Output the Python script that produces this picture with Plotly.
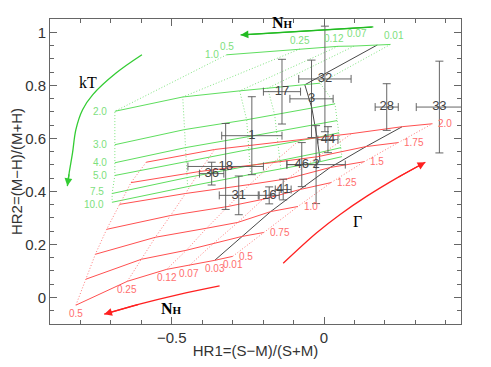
import plotly.graph_objects as go

# model grids: rows = kT (thermal) or photon index (power law), columns = NH (1e22)
nh_vals = [0.5, 0.25, 0.12, 0.07, 0.03, 0.01]
kt_vals = ["1.0", "2.0", "3.0", "4.0", "5.0", "7.5", "10.0"]
gamma_vals = ["0.5", "0.75", "1.0", "1.25", "1.5", "1.75", "2.0"]

th_hr1 = [
    [-0.320, -0.079, 0.046, 0.099, 0.175, 0.218],
    [-0.687, -0.464, -0.277, -0.185, -0.063, -0.013],
    [-0.687, -0.458, -0.254, -0.162, -0.040, 0.036],
    [-0.687, -0.455, -0.250, -0.155, -0.030, 0.043],
    [-0.687, -0.453, -0.247, -0.152, -0.023, 0.049],
    [-0.696, -0.450, -0.244, -0.145, -0.016, 0.056],
    [-0.696, -0.448, -0.241, -0.142, -0.013, 0.059],
]
th_hr2 = [
    [0.915, 0.937, 0.947, 0.948, 0.952, 0.954],
    [0.702, 0.756, 0.779, 0.789, 0.802, 0.808],
    [0.576, 0.633, 0.670, 0.689, 0.715, 0.730],
    [0.508, 0.565, 0.606, 0.625, 0.652, 0.667],
    [0.460, 0.512, 0.558, 0.576, 0.603, 0.621],
    [0.392, 0.452, 0.497, 0.516, 0.546, 0.565],
    [0.359, 0.418, 0.464, 0.486, 0.512, 0.531],
]
pl_hr1 = [
    [-0.815, -0.646, -0.517, -0.442, -0.359, -0.300],
    [-0.782, -0.600, -0.452, -0.363, -0.270, -0.198],
    [-0.751, -0.554, -0.386, -0.283, -0.175, -0.086],
    [-0.714, -0.504, -0.316, -0.201, -0.079, 0.023],
    [-0.672, -0.455, -0.244, -0.119, 0.020, 0.132],
    [-0.634, -0.409, -0.165, -0.020, 0.138, 0.244],
    [-0.584, -0.359, -0.079, 0.092, 0.257, 0.356],
]
pl_hr2 = [
    [-0.029, 0.061, 0.106, 0.121, 0.140, 0.155],
    [0.069, 0.144, 0.178, 0.204, 0.230, 0.245],
    [0.163, 0.227, 0.261, 0.283, 0.324, 0.343],
    [0.257, 0.309, 0.343, 0.370, 0.407, 0.433],
    [0.351, 0.392, 0.426, 0.448, 0.490, 0.512],
    [0.433, 0.475, 0.509, 0.531, 0.569, 0.584],
    [0.510, 0.558, 0.595, 0.618, 0.644, 0.655],
]

# sources
src_ids = ["1", "2", "3", "16", "17", "18", "28", "31", "32", "33", "36", "41", "44", "46"]
src_hr1 = [-0.237, -0.026, -0.041, -0.180, -0.138, -0.323, 0.206, -0.280, 0.003, 0.379, -0.369, -0.134, 0.013, -0.073]
src_hr2 = [0.610, 0.501, 0.749, 0.385, 0.776, 0.494, 0.718, 0.385, 0.824, 0.718, 0.467, 0.407, 0.595, 0.501]
src_ex = [0.099, 0.096, 0.071, 0.033, 0.061, 0.124, 0.038, 0.064, 0.086, 0.076, 0.040, 0.026, 0.033, 0.049]
src_ey = [0.147, 0.147, 0.146, 0.032, 0.122, 0.162, 0.088, 0.073, 0.199, 0.173, 0.043, 0.039, 0.049, 0.083]

# direction arrows
kt_arrow_x = [-0.598, -0.683, -0.760, -0.793, -0.815, -0.826, -0.837, -0.843]
kt_arrow_y = [0.915, 0.846, 0.764, 0.708, 0.633, 0.545, 0.470, 0.420]
nh_th_arrow_x = [0.162, -0.274]
nh_th_arrow_y = [1.020, 0.990]
nh_pl_arrow_x = [-0.343, -0.475, -0.606, -0.722]
nh_pl_arrow_y = [0.044, 0.012, -0.025, -0.063]
gam_arrow_x = [-0.134, -0.024, 0.053, 0.141, 0.240, 0.333]
gam_arrow_y = [0.129, 0.244, 0.313, 0.382, 0.451, 0.510]

GREEN = "#5ede5e"
GREEN_LT = "#7fe47f"
RED = "#ff5050"
RED_LT = "#ff7a7a"
BLACK = "#333333"
GREY = "#555555"

fig = go.Figure()


def add_grid(hr1, hr2, solid, dotted):
    nrow, ncol = len(hr1), len(hr1[0])
    for j in range(ncol):
        xs = [hr1[i][j] for i in range(nrow)]
        ys = [hr2[i][j] for i in range(nrow)]
        if nh_vals[j] == 0.03:
            line = dict(color=BLACK, width=0.9)
        else:
            line = dict(color=dotted, width=1, dash="1px,2px")
        fig.add_trace(go.Scatter(x=xs, y=ys, mode="lines", line=line, hoverinfo="skip"))
    for i in range(nrow):
        fig.add_trace(go.Scatter(x=hr1[i], y=hr2[i], mode="lines",
                                 line=dict(color=solid, width=1), hoverinfo="skip"))


add_grid(th_hr1, th_hr2, GREEN, GREEN_LT)
add_grid(pl_hr1, pl_hr2, RED, RED_LT)

# arrows (curve bodies + heads)
for xs, ys, c in [(kt_arrow_x, kt_arrow_y, "#33cc33"), (nh_th_arrow_x, nh_th_arrow_y, "#22bb22"),
                  (nh_pl_arrow_x, nh_pl_arrow_y, "#ff2020"), (gam_arrow_x, gam_arrow_y, "#ff2020")]:
    fig.add_trace(go.Scatter(x=xs, y=ys, mode="lines", line=dict(color=c, width=1.3),
                             hoverinfo="skip", line_shape="spline"))
    fig.add_annotation(x=xs[-1], y=ys[-1], ax=xs[-2], ay=ys[-2], axref="x", ayref="y",
                       xref="x", yref="y", text="", showarrow=True, arrowhead=2,
                       arrowsize=1.2, arrowwidth=1.3, arrowcolor=c)

# sources with error bars
fig.add_trace(go.Scatter(
    x=src_hr1, y=src_hr2, mode="text", text=src_ids,
    textfont=dict(family="Liberation Sans", size=13, color="#444444"),
    error_x=dict(type="data", array=src_ex, color=GREY, thickness=0.9, width=4),
    error_y=dict(type="data", array=src_ey, color=GREY, thickness=0.9, width=4),
    hoverinfo="skip"))

lab_font_g = dict(family="Liberation Sans", size=10, color="#7de07d")
lab_font_r = dict(family="Liberation Sans", size=10, color="#ff6e6e")

# kT labels (left ends of thermal rows)
kt_yshift = [0, 0, 0, 0, 0, 2, -2]
for i, k in enumerate(kt_vals):
    fig.add_annotation(x=th_hr1[i][0], y=th_hr2[i][0], text=k, showarrow=False,
                       xanchor="right", xshift=-6, yshift=kt_yshift[i], font=lab_font_g)
# NH labels on top of thermal grid
nh_top_shift = {0.5: (0, 1), 0.25: (0, 1), 0.12: (-4, 0), 0.07: (3, 5), 0.01: (4, 1)}
for j, nh in enumerate(nh_vals):
    if nh == 0.03:
        continue
    dx, dy = nh_top_shift[nh]
    fig.add_annotation(x=th_hr1[0][j], y=th_hr2[0][j], text=f"{nh:g}",
                       showarrow=False, yanchor="bottom", xshift=dx, yshift=dy, font=lab_font_g)
# Gamma labels (right ends of power-law rows)
for i, g in enumerate(gamma_vals):
    fig.add_annotation(x=pl_hr1[i][-1], y=pl_hr2[i][-1], text=g, showarrow=False,
                       xanchor="left", xshift=4, font=lab_font_r)
# NH labels below power-law grid
for j, nh in enumerate(nh_vals):
    fig.add_annotation(x=pl_hr1[0][j], y=pl_hr2[0][j], text=f"{nh:g}", showarrow=False,
                       yanchor="top", yshift=-1, font=lab_font_r)

serif = dict(family="Liberation Serif", size=16, color="black")
fig.add_annotation(x=-0.775, y=0.81, text="kT", showarrow=False, font=serif)
fig.add_annotation(x=0.11, y=0.285, text="Γ", showarrow=False, font=serif)
fig.add_annotation(x=-0.135, y=1.035, text="<b>N<span style='font-size:11px'>H</span></b>",
                   showarrow=False, font=serif)
fig.add_annotation(x=-0.5, y=-0.04, text="<b>N<span style='font-size:11px'>H</span></b>",
                   showarrow=False, font=serif)

axis_common = dict(showgrid=False, zeroline=False, showline=True, linecolor="#666666",
                   linewidth=1, mirror="allticks", ticks="inside", ticklen=7, automargin=False,
                   tickcolor="#666666", tickfont=dict(family="Liberation Sans", size=15, color="#333333"))

fig.update_xaxes(range=[-0.9, 0.45], tickvals=[-0.5, 0], ticktext=["\u22120.5", "0"],
                 minor=dict(dtick=0.1, tick0=0, ticks="inside", ticklen=4, tickcolor="#666666"),
                 title=dict(text="HR1=(S\u2212M)/(S+M)", font=dict(family="Liberation Sans", size=15, color="#333333"),
                            standoff=0),
                 **axis_common)
fig.update_yaxes(range=[-0.1, 1.05], tickvals=[0, 0.2, 0.4, 0.6, 0.8, 1.0], ticktext=["0", "0.2", "0.4", "0.6", "0.8", "1"],
                 minor=dict(dtick=0.05, tick0=0, ticks="inside", ticklen=4, tickcolor="#666666"),
                 title=dict(text="HR2=(M\u2212H)/(M+H)", font=dict(family="Liberation Sans", size=15, color="#333333"),
                            standoff=0),
                 **axis_common)

# page body has an 8px margin, so the figure is sized to fill the remaining window
fig.update_layout(width=483, height=359, margin=dict(l=42, r=30, t=11, b=43),
                  plot_bgcolor="white", paper_bgcolor="white", showlegend=False)

fig.write_html("out.html")
